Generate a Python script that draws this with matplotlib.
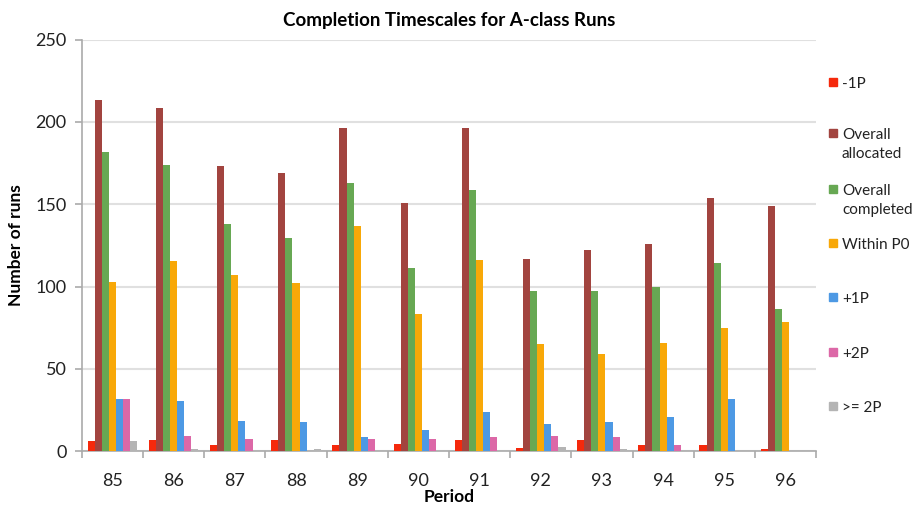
import matplotlib
matplotlib.use("Agg")
import matplotlib.pyplot as plt
import numpy as np

plt.rcParams['font.family'] = ['Lato', 'DejaVu Sans']

periods = ['85', '86', '87', '88', '89', '90', '91', '92', '93', '94', '95', '96']
series_names = ['-1P', 'Overall\nallocated', 'Overall\ncompleted', 'Within P0', '+1P', '+2P', '>= 2P']
minus_1p = [6, 7, 4, 7, 3.5, 4.5, 7, 2, 7, 4, 3.5, 1.5]
overall_allocated = [213, 208.5, 173, 169, 196.5, 150.5, 196.5, 117, 122, 126, 154, 149]
overall_completed = [181.5, 174, 138, 129.5, 163, 111, 158.5, 97, 97, 99.5, 114.5, 86.5]
within_p0 = [103, 115.5, 107, 102, 136.5, 83.5, 116, 65, 59, 66, 75, 78.5]
plus_1p = [31.5, 30.5, 18.5, 17.5, 8.5, 13, 24, 16.5, 17.5, 21, 31.5, 0]
plus_2p = [31.5, 9.5, 7.5, 0, 7.5, 7.5, 8.5, 9.5, 8.5, 4, 0, 0]
ge_2p = [6, 1.5, 0, 1.5, 0, 1, 0, 2.5, 1.5, 0, 0, 0]

series = [minus_1p, overall_allocated, overall_completed, within_p0, plus_1p, plus_2p, ge_2p]
colors = ['#F5290C', '#A2443F', '#67A853', '#F8A808', '#4D99E4', '#DC68A7', '#B4B4B4']

fig = plt.figure(figsize=(9.2, 5.07), dpi=100)
ax = fig.add_axes([0.089, 0.110, 0.798, 0.812])

x = np.arange(len(periods))
w = 0.116
for i, (vals, c) in enumerate(zip(series, colors)):
    ax.bar(x + (i - 3) * w, vals, width=w, color=c, zorder=3, linewidth=0)

ax.set_xlim(-0.5, len(periods) - 0.5)
ax.set_ylim(0, 250)
ax.set_yticks(range(0, 251, 50))
ax.set_xticks(x)
ax.set_xticklabels(periods)
ax.set_xticks(np.arange(-0.5, len(periods)), minor=True)
ax.tick_params(axis='x', which='major', length=0, pad=16, labelsize=13, colors='#222222')
ax.tick_params(axis='x', which='minor', length=5, color='#AAAAAA', width=1.2)
ax.tick_params(axis='y', length=5, color='#AAAAAA', width=1.2, labelsize=13,
               labelcolor='#222222', pad=6)
ax.grid(axis='y', color='#E0E0E0', linewidth=1.5, zorder=0)
for s in ['top', 'right']:
    ax.spines[s].set_visible(False)
for s in ['left', 'bottom']:
    ax.spines[s].set_color('#AAAAAA')
    ax.spines[s].set_linewidth(1.2)

ax.set_title('Completion Timescales for A-class Runs', fontsize=13.5, fontweight='bold', pad=10)
ax.set_ylabel('Number of runs', fontsize=12.5, fontweight='bold', labelpad=8)
ax.set_xlabel('Period', fontsize=12.5, fontweight='bold', labelpad=0)

# legend drawn down the right side
legend_tops = [80, 131, 187, 241, 295, 350, 404]
for name, c, ytop in zip(series_names, colors, legend_tops):
    fy = 1 - ytop / 507
    fig.patches.append(plt.Rectangle((829 / 920, fy - 0.012), 8 / 920, 8 / 507,
                                     transform=fig.transFigure, color=c))
    fig.text(842 / 920, fy + 0.006, name, fontsize=11, va='top', ha='left',
             color='#222222', linespacing=1.5)

fig.savefig('out.png', dpi=100)
